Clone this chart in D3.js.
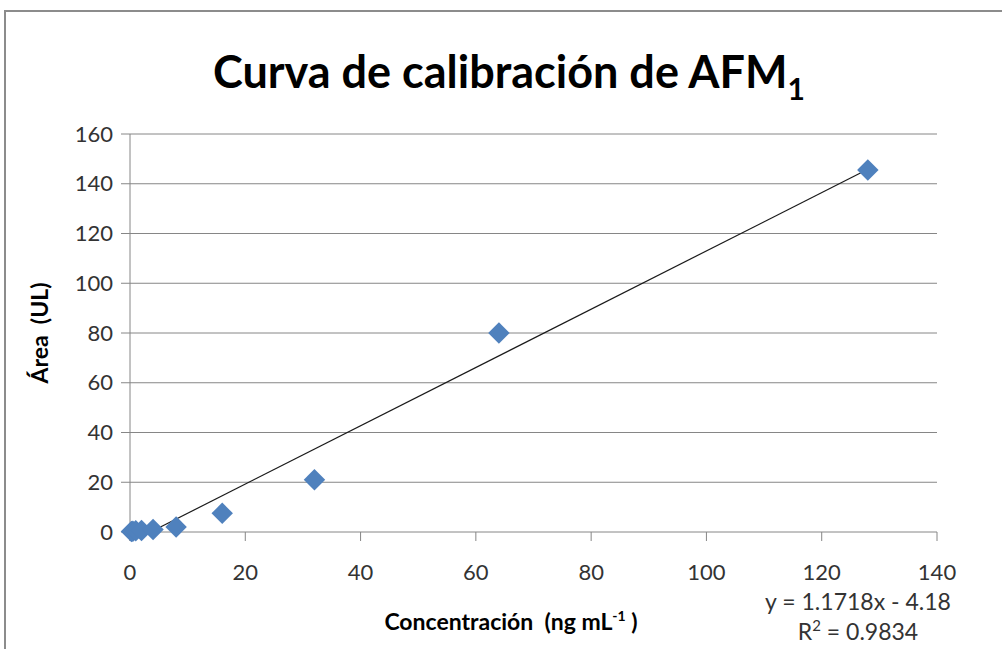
<!DOCTYPE html>
<html>
<head>
<meta charset="utf-8">
<script src="https://cdn.jsdelivr.net/npm/d3@7"></script>
<style>
  body { margin: 0; background: #fff; }
  svg { display: block; font-family: Lato, "Open Sans", sans-serif; }
</style>
</head>
<body>
<svg id="chart" width="1002" height="649"></svg>
<script>
// data
const concentracion = [0.25, 0.5, 1, 2, 4, 8, 16, 32, 64, 128];
const area = [0.2, 0.3, 0.5, 0.6, 1.0, 2.0, 7.5, 21, 80, 145.5];
const xTicks = [0, 20, 40, 60, 80, 100, 120, 140];
const yTicks = [0, 20, 40, 60, 80, 100, 120, 140, 160];
const slope = 1.1718, intercept = -4.18, r2 = 0.9834;

const svg = d3.select("#chart");
const W = 1002, H = 649;

// chart frame
svg.append("rect")
    .attr("x", 5).attr("y", 11)
    .attr("width", W + 10).attr("height", H)
    .attr("fill", "none").attr("stroke", "#8c8c8c").attr("stroke-width", 2);

const x = d3.scaleLinear().domain([0, 140]).range([130, 937]);
const y = d3.scaleLinear().domain([0, 160]).range([532, 134]);

// gridlines
svg.append("g")
  .selectAll("line")
  .data(yTicks)
  .join("line")
    .attr("x1", x(0) - 9).attr("x2", x(140))
    .attr("y1", d => y(d)).attr("y2", d => y(d))
    .attr("stroke", "#868686").attr("stroke-width", 1);

// y axis line
svg.append("line")
    .attr("x1", x(0)).attr("x2", x(0))
    .attr("y1", y(160)).attr("y2", y(0) + 9)
    .attr("stroke", "#868686");

// x ticks
svg.append("g")
  .selectAll("line")
  .data(xTicks)
  .join("line")
    .attr("x1", d => x(d)).attr("x2", d => x(d))
    .attr("y1", y(0)).attr("y2", y(0) + 9)
    .attr("stroke", "#868686");

// tick labels
svg.append("g")
    .attr("font-size", 22).attr("fill", "#333").attr("text-anchor", "end")
  .selectAll("text")
  .data(yTicks)
  .join("text")
    .attr("x", x(0) - 17).attr("y", d => y(d)).attr("dy", "0.35em")
    .text(d => d);

svg.append("g")
    .attr("font-size", 22).attr("fill", "#333").attr("text-anchor", "middle")
  .selectAll("text")
  .data(xTicks)
  .join("text")
    .attr("x", d => x(d)).attr("y", y(0) + 48)
    .text(d => d);

// trendline (clipped at y = 0 like the original)
const xStart = Math.max(d3.min(concentracion), -intercept / slope);
const xEnd = d3.max(concentracion);
svg.append("line")
    .attr("x1", x(xStart)).attr("y1", y(slope * xStart + intercept))
    .attr("x2", x(xEnd)).attr("y2", y(slope * xEnd + intercept))
    .attr("stroke", "#1a1a1a").attr("stroke-width", 1.2);

// points
const pts = d3.range(concentracion.length).map(i => [concentracion[i], area[i]]);
svg.append("g")
  .selectAll("path")
  .data(pts)
  .join("path")
    .attr("d", d3.symbol(d3.symbolSquare, 230))
    .attr("transform", d => `translate(${x(d[0])},${y(d[1])}) rotate(45)`)
    .attr("fill", "#4f81bd");

// title
const title = svg.append("text")
    .attr("x", 509).attr("y", 88)
    .attr("text-anchor", "middle")
    .attr("font-size", 45).attr("font-weight", "bold").attr("fill", "#000");
title.append("tspan").text("Curva de calibración de AFM");
title.append("tspan").attr("font-size", 30).attr("dy", 12).text("1");

// axis titles
svg.append("text")
    .attr("transform", "translate(48,333) rotate(-90)")
    .attr("text-anchor", "middle")
    .attr("font-size", 23).attr("font-weight", "bold")
    .attr("xml:space", "preserve")
    .text("Área  (UL)");

const xt = svg.append("text")
    .attr("x", 511).attr("y", 630)
    .attr("text-anchor", "middle")
    .attr("font-size", 23).attr("font-weight", "bold")
    .attr("xml:space", "preserve");
xt.append("tspan").text("Concentración  (ng mL");
xt.append("tspan").attr("font-size", 14).attr("dy", -9).text("-1");
xt.append("tspan").attr("dy", 9).text(" )");

// equation
const eq = svg.append("g").attr("font-size", 23).attr("fill", "#333").attr("text-anchor", "middle");
eq.append("text").attr("x", 858).attr("y", 610)
    .text(`y = ${slope}x - ${Math.abs(intercept)}`);
const r = eq.append("text").attr("x", 858).attr("y", 640);
r.append("tspan").text("R");
r.append("tspan").attr("font-size", 15).attr("dy", -9).text("2");
r.append("tspan").attr("dy", 9).text(` = ${r2}`);
</script>
</body>
</html>
